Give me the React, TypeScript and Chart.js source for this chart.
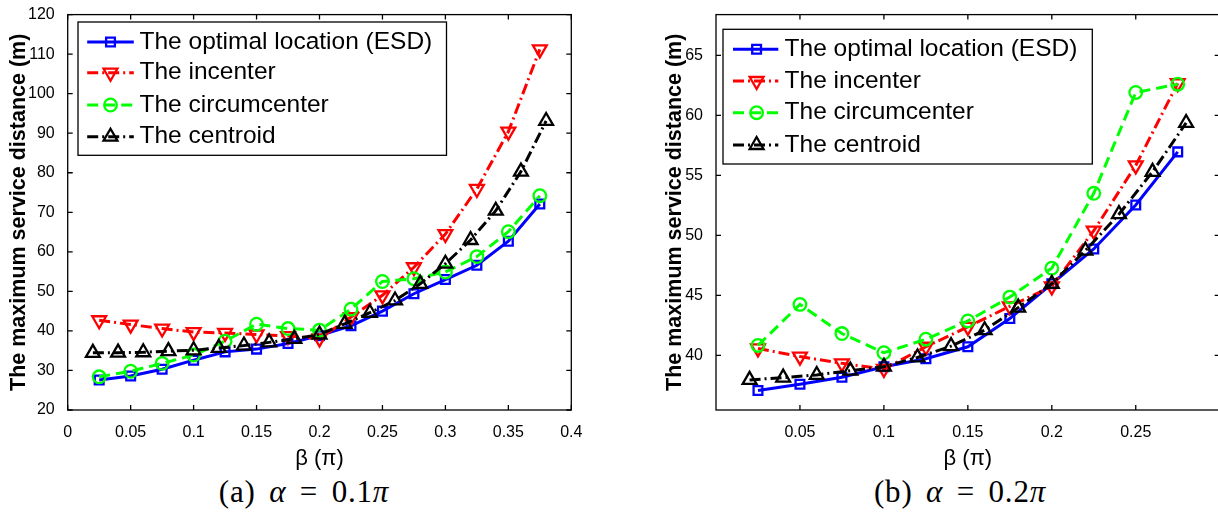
import React, { useEffect, useRef } from 'react';
import { Chart, registerables } from 'chart.js';

Chart.register(...registerables);

// ---------- data ----------
const SERIES_NAMES = ['The optimal location (ESD)', 'The incenter', 'The circumcenter', 'The centroid'];

// (a) alpha = 0.1 pi
const aX = [0.025, 0.05, 0.075, 0.1, 0.125, 0.15, 0.175, 0.2, 0.225, 0.25, 0.275, 0.3, 0.325, 0.35, 0.375];
const aOptimal = [27.6, 28.6, 30.3, 32.6, 34.7, 35.4, 36.8, 38.8, 41.3, 45.0, 49.4, 53.0, 56.6, 62.7, 72.1];
const aIncenter = [42.7, 41.6, 40.6, 39.7, 39.5, 39.1, 38.7, 38.1, 43.5, 49.0, 56.1, 64.5, 75.9, 90.4, 111.2];
const aCircumcenter = [28.4, 29.8, 31.8, 33.9, 37.4, 41.7, 40.6, 40.2, 45.5, 52.5, 53.2, 54.9, 58.8, 65.1, 74.2];
const aXCentroid = [0.02, 0.04, 0.06, 0.08, 0.1, 0.12, 0.14, 0.16, 0.18, 0.2, 0.22, 0.24, 0.26, 0.28, 0.3, 0.32, 0.34, 0.36, 0.38];
const aCentroid = [34.45, 34.5, 34.6, 34.9, 35.1, 35.7, 36.3, 37.1, 38.0, 39.1, 41.8, 44.6, 47.7, 51.9, 57.0, 63.0, 70.4, 80.3, 93.1];
const aXTicks = [0, 0.05, 0.1, 0.15, 0.2, 0.25, 0.3, 0.35, 0.4];
const aYTicks = [20, 30, 40, 50, 60, 70, 80, 90, 100, 110, 120];

// (b) alpha = 0.2 pi
const bX = [0.025, 0.05, 0.075, 0.1, 0.125, 0.15, 0.175, 0.2, 0.225, 0.25, 0.275];
const bOptimal = [37.07, 37.6, 38.18, 39.06, 39.72, 40.72, 43.07, 45.97, 48.87, 52.54, 56.96];
const bIncenter = [40.58, 39.9, 39.34, 38.87, 40.72, 42.38, 44.09, 45.75, 50.39, 55.83, 62.68];
const bCircumcenter = [40.83, 44.25, 41.82, 40.22, 41.35, 42.87, 44.86, 47.27, 53.51, 61.91, 62.6];
const bXCentroid = [0.02, 0.04, 0.06, 0.08, 0.1, 0.12, 0.14, 0.16, 0.18, 0.2, 0.22, 0.24, 0.26, 0.28];
const bCentroid = [37.96, 38.15, 38.37, 38.73, 39.06, 39.83, 40.77, 42.1, 43.98, 45.97, 48.73, 51.77, 55.3, 59.37];
const bXTicks = [0.05, 0.1, 0.15, 0.2, 0.25];
const bYTicks = [40, 45, 50, 55, 60, 65];

const X_TITLE = 'β (π)';
const Y_TITLE = 'The maximum service distance (m)';

// ---------- styles ----------
const FONT = '"Liberation Sans", Arial, Helvetica, sans-serif';
type MarkerKind = 'rect' | 'circle' | 'triangle';
interface SeriesStyle { color: string; dash: number[]; marker: MarkerKind; radius: number; rotation: number; order: number; }
const STYLES: SeriesStyle[] = [
  { color: '#0000ff', dash: [], marker: 'rect', radius: 6.2, rotation: 0, order: 4 },
  { color: '#ff0000', dash: [11, 4, 2, 4], marker: 'triangle', radius: 8, rotation: 180, order: 3 },
  { color: '#00ff00', dash: [11, 6], marker: 'circle', radius: 6.3, rotation: 0, order: 2 },
  { color: '#000000', dash: [11, 4, 2, 4], marker: 'triangle', radius: 8, rotation: 0, order: 1 },
];
const LINE_W = 3;
const MARK_W = 2.3;

function drawMarker(ctx: CanvasRenderingContext2D, st: SeriesStyle, x: number, y: number) {
  ctx.save();
  ctx.setLineDash([]);
  ctx.lineWidth = MARK_W;
  ctx.strokeStyle = st.color;
  ctx.beginPath();
  const r = st.radius;
  if (st.marker === 'rect') {
    const s = r * Math.SQRT1_2;
    ctx.rect(x - s, y - s, 2 * s, 2 * s);
  } else if (st.marker === 'circle') {
    ctx.arc(x, y, r, 0, Math.PI * 2);
  } else {
    let rad = (st.rotation * Math.PI) / 180;
    for (let k = 0; k < 3; k++) {
      const px = x + Math.sin(rad) * r;
      const py = y - Math.cos(rad) * r;
      if (k === 0) ctx.moveTo(px, py); else ctx.lineTo(px, py);
      rad += (2 * Math.PI) / 3;
    }
    ctx.closePath();
  }
  ctx.stroke();
  ctx.restore();
}

interface LegendSpec { x0: number; y0: number; x1: number; y1: number; rows: number[]; lineX0: number; lineX1: number; markerX: number; textX: number; }

const boxPlugin = {
  id: 'matlabBox',
  afterDatasetsDraw(chart: any, _args: any, opts: any) {
    const { ctx, chartArea } = chart;
    const { left, right, top, bottom } = chartArea;
    const xs = chart.scales.x;
    const ys = chart.scales.y;
    ctx.save();
    ctx.setLineDash([]);
    ctx.strokeStyle = '#000';
    ctx.lineWidth = 1.3;
    ctx.strokeRect(left, top, right - left, bottom - top);
    const tl = 5;
    ctx.beginPath();
    for (const v of opts.xTicks as number[]) {
      const px = xs.getPixelForValue(v);
      ctx.moveTo(px, bottom); ctx.lineTo(px, bottom - tl);
      ctx.moveTo(px, top); ctx.lineTo(px, top + tl);
    }
    for (const v of opts.yTicks as number[]) {
      const py = ys.getPixelForValue(v);
      ctx.moveTo(left, py); ctx.lineTo(left + tl, py);
      ctx.moveTo(right, py); ctx.lineTo(right - tl, py);
    }
    ctx.stroke();

    // legend
    const lg: LegendSpec = opts.legend;
    ctx.fillStyle = '#fff';
    ctx.fillRect(lg.x0, lg.y0, lg.x1 - lg.x0, lg.y1 - lg.y0);
    ctx.strokeStyle = '#000';
    ctx.lineWidth = 1.3;
    ctx.strokeRect(lg.x0, lg.y0, lg.x1 - lg.x0, lg.y1 - lg.y0);
    SERIES_NAMES.forEach((name, i) => {
      const st = STYLES[i];
      const ry = lg.rows[i];
      ctx.save();
      ctx.strokeStyle = st.color;
      ctx.lineWidth = LINE_W;
      ctx.setLineDash(st.dash);
      ctx.beginPath();
      ctx.moveTo(lg.lineX0, ry);
      ctx.lineTo(lg.lineX1, ry);
      ctx.stroke();
      ctx.restore();
      drawMarker(ctx, st, lg.markerX, ry);
      ctx.fillStyle = '#000';
      ctx.font = `24.5px ${FONT}`;
      ctx.textBaseline = 'middle';
      ctx.textAlign = 'left';
      ctx.fillText(name, lg.textX, ry);
    });
    ctx.restore();
  },
};

interface PanelSpec {
  series: { xs: number[]; ys: number[] }[];
  xMin: number; xMax: number; yMin: number; yMax: number;
  xTicks: number[]; yTicks: number[];
  yAxisWidth: number; padRight: number; yTitlePad: number;
  legend: LegendSpec;
}

function buildConfig(p: PanelSpec): any {
  return {
    type: 'line',
    data: {
      datasets: p.series.map((s, i) => {
        const st = STYLES[i];
        return {
          label: SERIES_NAMES[i],
          data: s.xs.map((x, j) => ({ x, y: s.ys[j] })),
          borderColor: st.color,
          borderWidth: LINE_W,
          borderDash: st.dash,
          backgroundColor: 'rgba(0,0,0,0)',
          fill: false,
          tension: 0,
          pointStyle: st.marker,
          pointRadius: st.radius,
          pointHoverRadius: st.radius,
          pointRotation: st.rotation,
          pointBorderWidth: MARK_W,
          pointBorderColor: st.color,
          pointBackgroundColor: 'rgba(0,0,0,0)',
          order: st.order,
          clip: false,
        };
      }),
    },
    options: {
      animation: false,
      responsive: false,
      devicePixelRatio: 1,
      events: [],
      layout: { padding: { left: 0, top: 13.3, right: p.padRight, bottom: 0 } },
      plugins: {
        legend: { display: false },
        tooltip: { enabled: false },
        matlabBox: { xTicks: p.xTicks, yTicks: p.yTicks, legend: p.legend },
      },
      scales: {
        x: {
          type: 'linear',
          min: p.xMin,
          max: p.xMax,
          grid: { display: false },
          border: { display: false },
          afterBuildTicks: (s: any) => { s.ticks = p.xTicks.map((v) => ({ value: v })); },
          afterFit: (s: any) => { s.height = 60; },
          ticks: {
            color: '#000', autoSkip: false, maxRotation: 0, padding: 5,
            font: { family: FONT, size: 16 },
            callback: (v: any) => String(v),
          },
          title: {
            display: true, text: X_TITLE, color: '#000',
            font: { family: FONT, size: 22, lineHeight: 1 },
            padding: { top: 12, bottom: 0 },
          },
        },
        y: {
          type: 'linear',
          min: p.yMin,
          max: p.yMax,
          grid: { display: false },
          border: { display: false },
          afterBuildTicks: (s: any) => { s.ticks = p.yTicks.map((v) => ({ value: v })); },
          afterFit: (s: any) => { s.width = p.yAxisWidth; },
          ticks: {
            color: '#000', autoSkip: false, padding: 5,
            font: { family: FONT, size: 16 },
            callback: (v: any) => String(v),
          },
          title: {
            display: true, text: Y_TITLE, color: '#000',
            font: { family: FONT, size: 21.5, weight: 'bold', lineHeight: 1 },
            padding: { top: p.yTitlePad, bottom: 0 },
          },
        },
      },
    },
    plugins: [boxPlugin],
  };
}

const panelA: PanelSpec = {
  series: [
    { xs: aX, ys: aOptimal },
    { xs: aX, ys: aIncenter },
    { xs: aX, ys: aCircumcenter },
    { xs: aXCentroid, ys: aCentroid },
  ],
  xMin: 0, xMax: 0.4, yMin: 20, yMax: 120,
  xTicks: aXTicks, yTicks: aYTicks,
  yAxisWidth: 67.7, padRight: 28.7, yTitlePad: 8.25,
  legend: { x0: 78, y0: 22, x1: 446.5, y1: 155.3, rows: [42, 72.7, 105, 136.7], lineX0: 87.2, lineX1: 133.8, markerX: 110.5, textX: 139.5 },
};

const panelB: PanelSpec = {
  series: [
    { xs: bX, ys: bOptimal },
    { xs: bX, ys: bIncenter },
    { xs: bX, ys: bCircumcenter },
    { xs: bXCentroid, ys: bCentroid },
  ],
  xMin: 0, xMax: 0.3, yMin: 35.45, yMax: 68.4,
  xTicks: bXTicks, yTicks: bYTicks,
  yAxisWidth: 116, padRight: 20.3, yTitlePad: 64.25,
  legend: { x0: 123, y0: 29.3, x1: 492.3, y1: 164, rows: [49.3, 81, 112.7, 145], lineX0: 133, lineX1: 178.3, markerX: 156.6, textX: 184.6 },
};

function Panel({ spec, left, width }: { spec: PanelSpec; left: number; width: number }) {
  const ref = useRef<HTMLCanvasElement | null>(null);
  useEffect(() => {
    if (!ref.current) return;
    const chart = new Chart(ref.current, buildConfig(spec));
    return () => chart.destroy();
  }, [spec]);
  return (
    <canvas
      ref={ref}
      width={width}
      height={470}
      style={{ position: 'absolute', left, top: 0, width, height: 470 }}
    />
  );
}

const captionStyle: React.CSSProperties = {
  position: 'absolute',
  top: 476,
  transform: 'translateX(-50%)',
  fontFamily: '"Liberation Serif", "Times New Roman", serif',
  fontSize: 31,
  lineHeight: '31px',
  letterSpacing: 0.8,
  wordSpacing: 5,
  whiteSpace: 'nowrap',
  color: '#000',
};

export default function App() {
  return (
    <div style={{ position: 'fixed', left: 0, top: 0, width: 1218, height: 517, overflow: 'hidden', background: '#fff' }}>
      <Panel spec={panelA} left={0} width={600} />
      <Panel spec={panelB} left={600} width={640} />
      <div style={{ ...captionStyle, left: 304 }}>
        (a) <i>α</i> = 0.1<i>π</i>
      </div>
      <div style={{ ...captionStyle, left: 960 }}>
        (b) <i>α</i> = 0.2<i>π</i>
      </div>
    </div>
  );
}
